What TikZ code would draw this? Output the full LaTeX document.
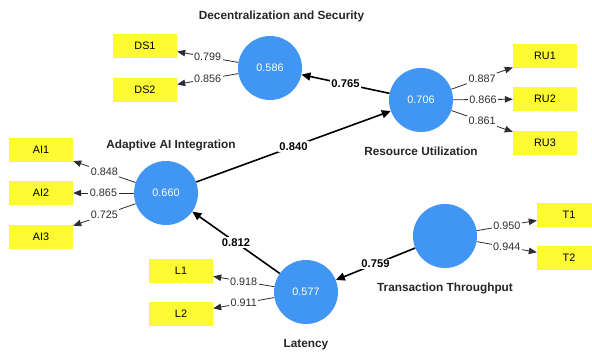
\documentclass[tikz,border=0pt]{standalone}
\usepackage{fontspec}
\setmainfont{Liberation Sans}
\usetikzlibrary{arrows.meta}
\usepackage{xcolor}

\definecolor{lvblue}{RGB}{66,150,243}
\definecolor{mvyellow}{RGB}{252,250,50}
\definecolor{loadgray}{RGB}{45,45,45}

\begin{document}
\begin{tikzpicture}[
    x=1pt, y=-1pt,
    latent/.style={circle, fill=lvblue, minimum size=64pt, inner sep=0pt, text=white, font=\fontsize{10.8}{12}\selectfont},
    indicator/.style={rectangle, fill=mvyellow, minimum width=64pt, minimum height=24pt, inner sep=0pt, font=\fontsize{10.8}{12}\selectfont},
    lvname/.style={font=\fontsize{11.8}{14}\selectfont\bfseries, text=black!85},
    structural/.style={-{Triangle[length=9pt, width=8pt]}, line width=1.6pt},
    loading/.style={-{Triangle[length=8pt, width=6.5pt]}, line width=0.8pt, draw=loadgray},
    coef/.style={fill=white, inner sep=1.5pt, font=\fontsize{11.2}{13}\selectfont\bfseries},
    ldval/.style={fill=white, inner sep=1.5pt, text=loadgray, font=\fontsize{10.8}{12}\selectfont}
]
\useasboundingbox (0,0) rectangle (592,354);

% Latent variables
\node[latent] (ds) at (270, 68)  {0.586};
\node[latent] (ru) at (421, 100) {0.706};
\node[latent] (ai) at (166, 193) {0.660};
\node[latent] (lt) at (306, 292) {0.577};
\node[latent] (tt) at (445, 236) {};

% Construct names
\node[lvname] (dsname) at (281.5, 16) {Decentralization and Security};
\node[lvname] (runame) at (421, 151)  {Resource Utilization};
\node[lvname] (ainame) at (171, 145)  {Adaptive AI Integration};
\node[lvname] (ltname) at (306, 345)  {Latency};
\node[lvname] (ttname) at (445, 288)  {Transaction Throughput};

% Indicators
\node[indicator] (ds1) at (145, 46)  {DS1};
\node[indicator] (ds2) at (145, 90)  {DS2};
\node[indicator] (ru1) at (545, 56)  {RU1};
\node[indicator] (ru2) at (545, 99)  {RU2};
\node[indicator] (ru3) at (545, 143) {RU3};
\node[indicator] (ai1) at (41, 150)  {AI1};
\node[indicator] (ai2) at (41, 193)  {AI2};
\node[indicator] (ai3) at (41, 237)  {AI3};
\node[indicator] (l1)  at (181, 271) {L1};
\node[indicator] (l2)  at (181, 314) {L2};
\node[indicator] (t1)  at (569, 215) {T1};
\node[indicator] (t2)  at (569, 258) {T2};

% Outer loadings
\draw[loading] (ds) -- node[ldval] {0.799} (ds1);
\draw[loading] (ds) -- node[ldval] {0.856} (ds2);
\draw[loading] (ru) -- node[ldval] {0.887} (ru1);
\draw[loading] (ru) -- node[ldval] {0.866} (ru2);
\draw[loading] (ru) -- node[ldval] {0.861} (ru3);
\draw[loading] (ai) -- node[ldval] {0.848} (ai1);
\draw[loading] (ai) -- node[ldval] {0.865} (ai2);
\draw[loading] (ai) -- node[ldval] {0.725} (ai3);
\draw[loading] (lt) -- node[ldval] {0.918} (l1);
\draw[loading] (lt) -- node[ldval] {0.911} (l2);
\draw[loading] (tt) -- node[ldval] {0.950} (t1);
\draw[loading] (tt) -- node[ldval] {0.944} (t2);

% Structural paths
\draw[structural] (ru) -- node[coef] {0.765} (ds);
\draw[structural] (ai) -- node[coef] {0.840} (ru);
\draw[structural] (lt) -- node[coef] {0.812} (ai);
\draw[structural] (tt) -- node[coef] {0.759} (lt);

\end{tikzpicture}
\end{document}
